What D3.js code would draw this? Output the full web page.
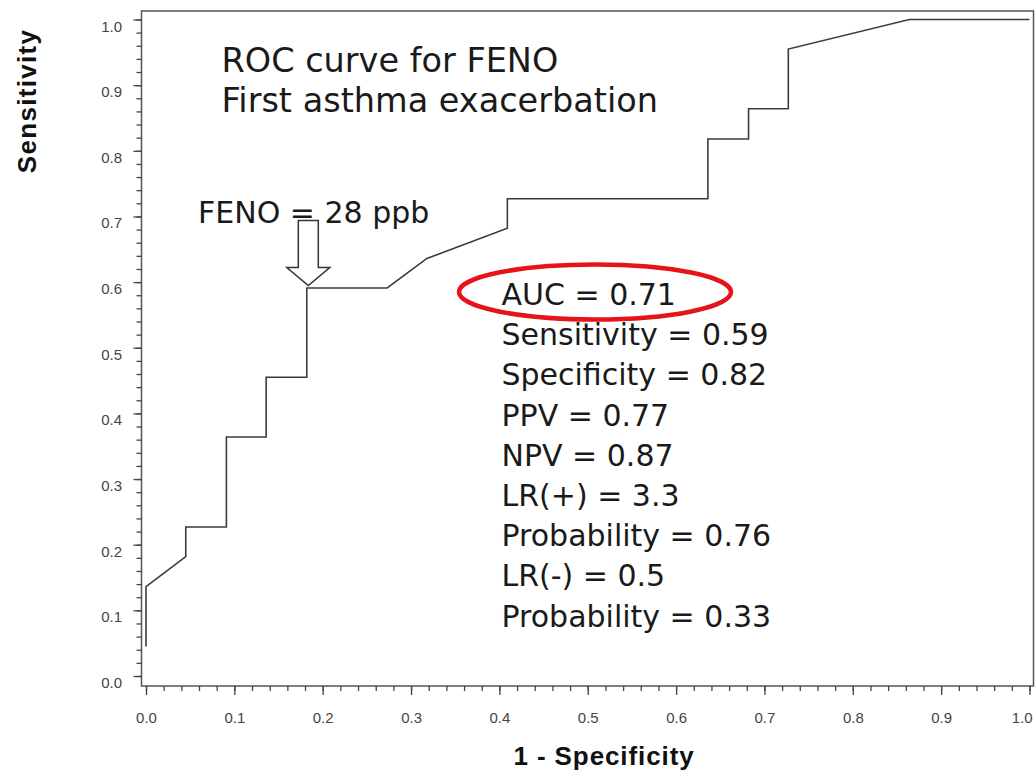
<!DOCTYPE html>
<html>
<head>
<meta charset="utf-8">
<script src="https://cdn.jsdelivr.net/npm/d3@7"></script>
<style>
  html, body { margin: 0; padding: 0; background: #fff; }
  svg { display: block; }
</style>
</head>
<body>
<svg id="chart" width="1036" height="775"></svg>
<script>
// ROC curve for FENO: 1 - specificity (false positive rate) and sensitivity at each cut-off
const fpr = [0, 0, 0.045, 0.045, 0.091, 0.091, 0.136, 0.136, 0.182, 0.182, 0.273,
             0.318, 0.409, 0.409, 0.636, 0.636, 0.682, 0.682, 0.727, 0.727, 0.864, 1.0];
const tpr = [0.045, 0.136, 0.182, 0.227, 0.227, 0.364, 0.364, 0.455, 0.455, 0.591, 0.591,
             0.636, 0.682, 0.727, 0.727, 0.818, 0.818, 0.864, 0.864, 0.955, 1.0, 1.0];

// Axis ticks
const xTicks = [0, 0.1, 0.2, 0.3, 0.4, 0.5, 0.6, 0.7, 0.8, 0.9, 1.0];
const yTicks = [0, 0.1, 0.2, 0.3, 0.4, 0.5, 0.6, 0.7, 0.8, 0.9, 1.0];
const minorTicks = d3.range(0, 51).map(i => i / 50);

// Annotations
const titleLines = ["ROC curve for FENO", "First asthma exacerbation"];
const cutoffLabel = "FENO = 28 ppb";
const cutoffFpr = 0.182;   // 1 - specificity 0.82
const cutoffTpr = 0.591;   // sensitivity 0.59
const statNames  = ["AUC", "Sensitivity", "Specificity", "PPV", "NPV", "LR(+)", "Probability", "LR(-)", "Probability"];
const statValues = ["0.71", "0.59", "0.82", "0.77", "0.87", "3.3", "0.76", "0.5", "0.33"];

const svg = d3.select("#chart");
const x = d3.scaleLinear().domain([0, 1]).range([146, 1029.5]);
const y = d3.scaleLinear().domain([0, 1]).range([676, 19.5]);

// Plot frame, padded slightly beyond the [0,1] range
const fx0 = x(0) - 4.5, fx1 = x(1) + 4, fy0 = y(1) - 8.5, fy1 = y(0) + 10;
svg.append("rect")
  .attr("x", fx0).attr("y", fy0)
  .attr("width", fx1 - fx0).attr("height", fy1 - fy0)
  .attr("fill", "none").attr("stroke", "#555").attr("stroke-width", 1.5);

const tickFont = "'Liberation Sans', Arial, Helvetica, sans-serif";

function styleAxis(g) {
  g.select(".domain").remove();
  g.selectAll(".tick line").attr("stroke", "#444").attr("stroke-width", 1.3);
  g.selectAll(".tick text")
    .attr("fill", "#444")
    .style("font-family", tickFont)
    .style("font-size", "15px");
}

// Y axis: minor then major ticks
svg.append("g").attr("transform", `translate(${fx0},0)`)
  .call(d3.axisLeft(y).tickValues(minorTicks).tickSize(5).tickFormat(""))
  .call(styleAxis);
svg.append("g").attr("transform", `translate(${fx0},0)`)
  .call(d3.axisLeft(y).tickValues(yTicks).tickSize(8).tickFormat(d3.format(".1f")))
  .call(styleAxis)
  .call(g => g.selectAll(".tick text").attr("x", -(fx0 - 122)).attr("dy", 11.5));

// X axis: minor then major ticks
svg.append("g").attr("transform", `translate(0,${fy1})`)
  .call(d3.axisBottom(x).tickValues(minorTicks).tickSize(5).tickFormat(""))
  .call(styleAxis);
svg.append("g").attr("transform", `translate(0,${fy1})`)
  .call(d3.axisBottom(x).tickValues(xTicks).tickSize(9).tickFormat(d3.format(".1f")))
  .call(styleAxis)
  .call(g => g.selectAll(".tick text").attr("y", 37).attr("dy", 0))
  // the last label sits flush against the right edge
  .call(g => g.selectAll(".tick text").filter(d => d === 1).attr("text-anchor", "end").attr("x", 2.5));

// Axis titles
svg.append("text")
  .attr("x", 604).attr("y", 765)
  .attr("text-anchor", "middle")
  .style("font-family", tickFont).style("font-weight", "bold")
  .style("font-size", "26px").style("letter-spacing", "0.9px")
  .attr("fill", "#111")
  .text("1 - Specificity");

svg.append("text")
  .attr("transform", "translate(36,101) rotate(-90)")
  .attr("text-anchor", "middle")
  .style("font-family", tickFont).style("font-weight", "bold")
  .style("font-size", "26px").style("letter-spacing", "1.3px")
  .attr("fill", "#111")
  .text("Sensitivity");

// ROC curve
const rocPoints = fpr.map((f, i) => [f, tpr[i]]);
svg.append("path")
  .datum(rocPoints)
  .attr("d", d3.line().x(d => x(d[0])).y(d => y(d[1])))
  .attr("fill", "none")
  .attr("stroke", "#3c3c3c")
  .attr("stroke-width", 1.6)
  .attr("stroke-linejoin", "miter");

const annFont = "'DejaVu Sans', Verdana, Tahoma, sans-serif";

// Chart title
svg.append("g").selectAll("text")
  .data(titleLines)
  .join("text")
  .attr("x", 221.5)
  .attr("y", (d, i) => 72 + i * 40)
  .style("font-family", annFont).style("font-size", "33.5px")
  .attr("fill", "#1a1a1a")
  .text(d => d);

// Cut-off label and hollow arrow pointing at the chosen threshold
svg.append("text")
  .attr("x", 198).attr("y", 223)
  .style("font-family", annFont).style("font-size", "30px")
  .attr("fill", "#1a1a1a")
  .text(cutoffLabel);

const tipX = x(cutoffFpr) + 1.5, tipY = y(cutoffTpr) - 2.5;
const arrow = d3.path();
arrow.moveTo(tipX - 10, tipY - 65);
arrow.lineTo(tipX + 10, tipY - 65);
arrow.lineTo(tipX + 10, tipY - 18);
arrow.lineTo(tipX + 21.5, tipY - 18);
arrow.lineTo(tipX, tipY);
arrow.lineTo(tipX - 21.5, tipY - 18);
arrow.lineTo(tipX - 10, tipY - 18);
arrow.closePath();
svg.append("path")
  .attr("d", arrow.toString())
  .attr("fill", "#fff")
  .attr("stroke", "#333")
  .attr("stroke-width", 1.5)
  .attr("stroke-linejoin", "miter");

// Diagnostic statistics at the cut-off
svg.append("g").selectAll("text")
  .data(statNames)
  .join("text")
  .attr("x", 501.5)
  .attr("y", (d, i) => 305 + i * 40.2)
  .style("font-family", annFont).style("font-size", "30px")
  .attr("fill", "#1a1a1a")
  .text((d, i) => `${d} = ${statValues[i]}`);

// Red ellipse highlighting the AUC
svg.append("ellipse")
  .attr("cx", 595).attr("cy", 292)
  .attr("rx", 136).attr("ry", 27.5)
  .attr("fill", "none")
  .attr("stroke", "#e5141b")
  .attr("stroke-width", 4.5);
</script>
</body>
</html>
